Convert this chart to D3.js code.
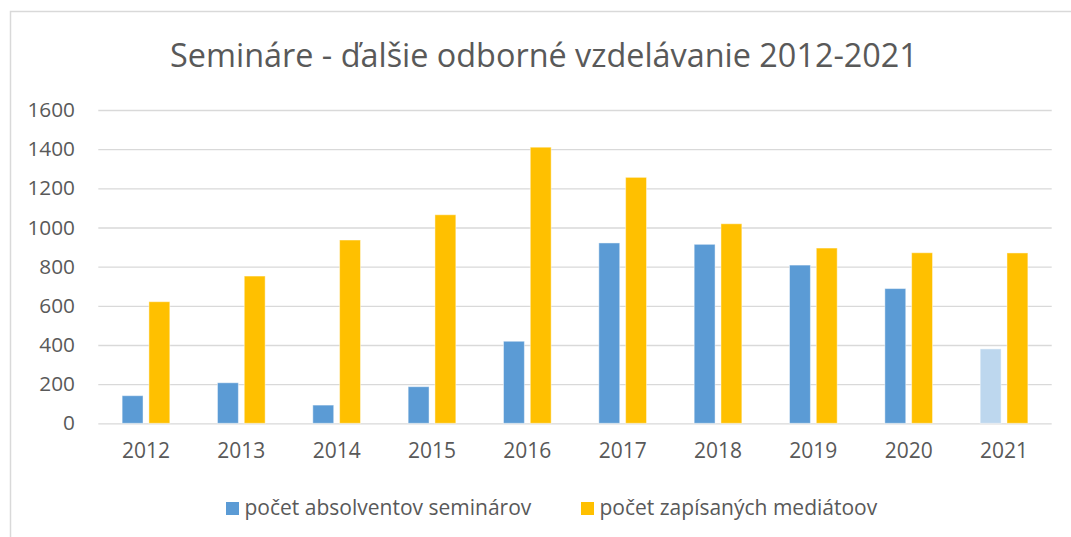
<!DOCTYPE html>
<html>
<head>
<meta charset="utf-8">
<script src="https://cdn.jsdelivr.net/npm/d3@7"></script>
<style>
  html, body { margin: 0; padding: 0; background: #fff; }
  svg { display: block; }
  text { font-family: "Open Sans", "DejaVu Sans", sans-serif; fill: #595959; }
</style>
</head>
<body>
<svg id="chart" width="1071" height="537"></svg>
<script>
const title = "Semináre - ďalšie odborné vzdelávanie 2012-2021";
const years = ["2012","2013","2014","2015","2016","2017","2018","2019","2020","2021"];
const seriesNames = ["počet absolventov seminárov", "počet zapísaných mediátoov"];
const absolventi = [141, 207, 93, 187, 419, 921, 914, 808, 688, 380];
const mediatori = [621, 752, 936, 1065, 1410, 1256, 1019, 895, 871, 870];
const yTicks = [0, 200, 400, 600, 800, 1000, 1200, 1400, 1600];
const lightYears = ["2021"];

const colors = ["#5B9BD5", "#FFC000"];
const lightBlue = "#BDD7EE";

const svg = d3.select("#chart");

// outer chart border
svg.append("rect").attr("x", 10.5).attr("y", 11.5).attr("width", 1200).attr("height", 700)
  .attr("fill", "none").attr("stroke", "#d9d9d9").attr("stroke-width", 1.5);

const pLeft = 98.3, pRight = 1051.7, pTop = 110, pBottom = 423.3;

const x = d3.scaleBand().domain(years).range([pLeft, pRight]).paddingInner(0.5).paddingOuter(0.25);
const xs = d3.scaleBand().domain([0, 1]).range([0, x.bandwidth()]).paddingInner(0.22);
const y = d3.scaleLinear().domain([0, 1600]).range([pBottom, pTop]);

// gridlines
const gridAxis = d3.axisLeft(y).tickValues(yTicks).tickSize(-(pRight - pLeft)).tickFormat("");
const grid = svg.append("g").attr("transform", `translate(${pLeft},0)`).call(gridAxis);
grid.select(".domain").remove();
grid.selectAll("line").attr("stroke", "#d9d9d9").attr("stroke-width", 1.3);

// y labels
const yAxis = d3.axisLeft(y).tickValues(yTicks).tickSize(0).tickPadding(0).tickFormat(d3.format("d"));
const ya = svg.append("g").attr("transform", `translate(75,0)`).call(yAxis);
ya.select(".domain").remove();
ya.selectAll("text").attr("font-size", 20.8).attr("fill", "#595959")
  .style("font-family", '"Open Sans", sans-serif');

// x labels
const xAxis = d3.axisBottom(x).tickSize(0).tickPadding(0);
const xa = svg.append("g").attr("transform", `translate(0,${pBottom + 20})`).call(xAxis);
xa.select(".domain").remove();
xa.selectAll("text").attr("font-size", 21).attr("fill", "#595959")
  .style("font-family", '"Open Sans", sans-serif');

// bars
const data = years.map((yr, i) => ({ yr, vals: [absolventi[i], mediatori[i]] }));
const groups = svg.append("g").selectAll("g").data(data).join("g")
  .attr("transform", d => `translate(${x(d.yr)},0)`);
groups.selectAll("rect").data(d => d.vals.map((v, s) => ({ v, s, yr: d.yr }))).join("rect")
  .attr("x", d => xs(d.s))
  .attr("width", xs.bandwidth())
  .attr("y", d => y(d.v))
  .attr("height", d => y(0) - y(d.v))
  .attr("fill", d => (d.s === 0 && lightYears.includes(d.yr)) ? lightBlue : colors[d.s])
  .attr("stroke", "#fff").attr("stroke-opacity", 0.45).attr("stroke-width", 1);

// title
const t = svg.append("text").attr("x", 544).attr("y", 67).attr("text-anchor", "middle")
  .attr("font-size", 30).text(title);
const tw = t.node().getComputedTextLength();
t.attr("font-size", 30 * 748 / tw);

// legend
const legendX = [226, 581];
const lg = svg.append("g").selectAll("g").data(seriesNames).join("g")
  .attr("transform", (d, i) => `translate(${legendX[i]},502)`);
lg.append("rect").attr("width", 13).attr("height", 13).attr("fill", (d, i) => colors[i]);
lg.append("text").attr("x", 18.5).attr("y", 13).attr("font-size", 21).text(d => d);
</script>
</body>
</html>
